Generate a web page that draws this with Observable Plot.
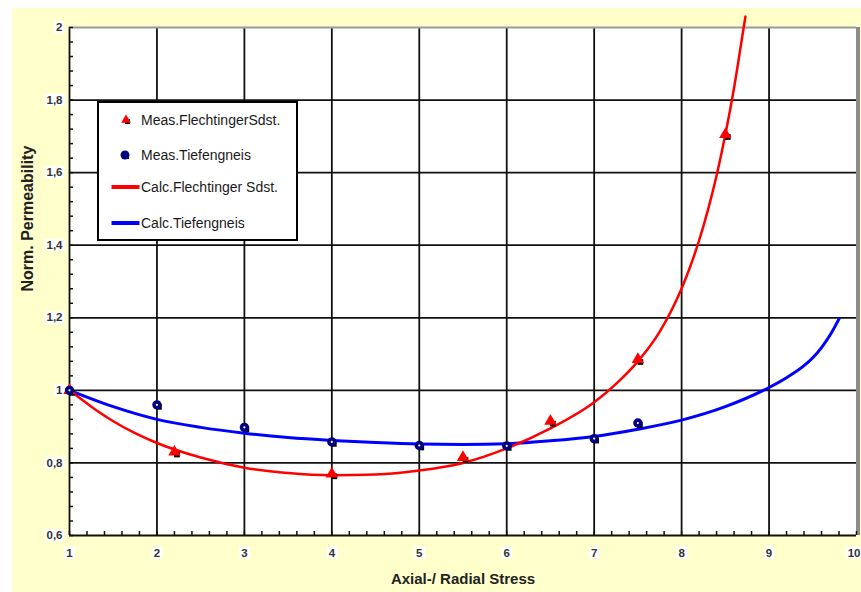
<!DOCTYPE html>
<html>
<head>
<meta charset="utf-8">
<script src="https://cdn.jsdelivr.net/npm/d3@7"></script>
<script src="https://cdn.jsdelivr.net/npm/@observablehq/plot@0.6"></script>
<style>
html, body { margin: 0; padding: 0; background: #fff; }
#wrap { position: relative; width: 861px; height: 592px; overflow: hidden; font-family: "Liberation Sans", Arial, sans-serif; }
#bg { position: absolute; left: 12px; top: 8px; right: 0; bottom: 0; background: #ffffcc; }
#chart { position: absolute; left: 0; top: 0; }
#legend { position: absolute; left: 97px; top: 101px; width: 197px; height: 136px; border: 2px solid #000; background: #fff; }
.row { position: absolute; left: 0; height: 20px; display: flex; align-items: center; font-size: 14px; color: #1a1a1a; white-space: nowrap; }
.row svg { display: block; }
</style>
</head>
<body>
<div id="wrap">
  <div id="bg"></div>
  <div id="chart"></div>
  <div id="legend"></div>
</div>
<script>
// ---- data ----
const xTitle = "Axial-/ Radial Stress";
const yTitle = "Norm. Permeability";

const xTicks = [1, 2, 3, 4, 5, 6, 7, 8, 9, 10];
const xTickLabels = ["1", "2", "3", "4", "5", "6", "7", "8", "9", "10"];
const yTicks = [0.6, 0.8, 1, 1.2, 1.4, 1.6, 1.8, 2];
const yTickLabels = ["0,6", "0,8", "1", "1,2", "1,4", "1,6", "1,8", "2"];

const legendLabels = ["Meas.FlechtingerSdst.", "Meas.Tiefengneis", "Calc.Flechtinger Sdst.", "Calc.Tiefengneis"];

// measured: Flechtinger sandstone
const measFX = [1, 2.2, 4, 5.5, 6.5, 7.5, 8.5];
const measFY = [1.0, 0.83, 0.77, 0.815, 0.915, 1.085, 1.705];
// measured: Tiefengneis
const measTX = [1, 2, 3, 4, 5, 6, 7, 7.5];
const measTY = [1.0, 0.96, 0.898, 0.858, 0.848, 0.847, 0.867, 0.91];

// calculated: Flechtinger sandstone
const calcFX = [1, 1.25, 1.5, 1.75, 2, 2.5, 3, 3.5, 4, 4.5, 5, 5.5, 6, 6.5, 7, 7.25, 7.5, 7.75, 8, 8.1, 8.2, 8.3, 8.4, 8.5, 8.6, 8.7, 8.73];
const calcFY = [1.0, 0.955, 0.915, 0.882, 0.855, 0.815, 0.787, 0.772, 0.766, 0.768, 0.779, 0.80, 0.84, 0.895, 0.967, 1.018, 1.08, 1.162, 1.281, 1.342, 1.413, 1.496, 1.592, 1.705, 1.834, 1.985, 2.03];
// calculated: Tiefengneis
const calcTX = [1, 1.5, 2, 2.5, 3, 3.5, 4, 4.5, 5, 5.5, 6, 6.5, 7, 7.5, 8, 8.5, 9, 9.2, 9.4, 9.5, 9.6, 9.7, 9.8];
const calcTY = [1.0, 0.955, 0.92, 0.898, 0.882, 0.87, 0.862, 0.856, 0.852, 0.851, 0.853, 0.861, 0.873, 0.893, 0.918, 0.955, 1.008, 1.035, 1.068, 1.09, 1.118, 1.153, 1.197];

const colRed = "#ff0000", colNavy = "#000080", colBlue = "#0000ff";

const xMinor = d3.range(0, 46).map(i => 1 + i * 0.2);
const yMinor = d3.range(0, 36).map(i => 0.6 + i * 0.04);

const font = '"Liberation Sans", Arial, sans-serif';

const chart = Plot.plot({
  width: 861,
  height: 592,
  marginLeft: 69,
  marginRight: 5,
  marginTop: 27,
  marginBottom: 57,
  style: { background: "transparent", fontFamily: font, overflow: "visible" },
  x: { domain: [1, 10] },
  y: { domain: [0.6, 2] },
  marks: [
    Plot.frame({ fill: "white", stroke: null }),
    Plot.gridX({ ticks: xTicks.slice(0, -1), stroke: "#111", strokeOpacity: 1, strokeWidth: 1.8 }),
    Plot.gridY({ ticks: yTicks.slice(0, -1), stroke: "#111", strokeOpacity: 1, strokeWidth: 1.8 }),
    Plot.ruleX([xTicks[xTicks.length - 1]], { stroke: "#8c8c8c", strokeWidth: 4, dx: 1.5 }),
    Plot.ruleY([yTicks[yTicks.length - 1]], { stroke: "#9a9a9a", strokeWidth: 2 }),
    // minor ticks (inside)
    Plot.axisX({ ticks: xMinor, tickSize: 4, dy: -4, fill: "none", label: null, stroke: "#111", strokeWidth: 1.5 }),
    Plot.axisY({ ticks: yMinor, tickSize: 4, dx: 4, fill: "none", label: null, stroke: "#111", strokeWidth: 1.5 }),
    // tick labels
    Plot.axisX({ ticks: xTicks, tickSize: 0, tickPadding: 13, tickFormat: d => xTickLabels[xTicks.indexOf(d)], fontSize: 11.5, fontWeight: "bold", fill: "#333", label: null }),
    Plot.axisY({ ticks: yTicks, tickSize: 0, tickPadding: 7, tickFormat: d => yTickLabels[yTicks.indexOf(d)], fontSize: 11.5, fontWeight: "bold", fill: "#333", label: null }),
    // titles
    Plot.text([xTitle], { text: d => d, frameAnchor: "bottom", dy: 48, fontSize: 15, fontWeight: "bold", fill: "#222", ariaLabel: "x title" }),
    Plot.text([yTitle], { text: d => d, frameAnchor: "left", dx: -42, dy: 10, rotate: -90, fontSize: 16, fontWeight: "bold", fill: "#222", ariaLabel: "y title" }),
    // calculated curves
    Plot.line(calcTX, { x: calcTX, y: calcTY, stroke: colBlue, strokeWidth: 3, curve: "monotone-x" }),
    Plot.line(calcFX, { x: calcFX, y: calcFY, stroke: colRed, strokeWidth: 2.5, curve: "monotone-x" }),
    // marker shadows
    Plot.dot(measFX, { x: measFX, y: measFY, symbol: "square", r: 3.2, fill: "black", dx: 2.5, dy: 2.5 }),
    Plot.dot(measTX, { x: measTX, y: measTY, symbol: "square", r: 3.2, fill: "black", dx: 2, dy: 2 }),
    // measured markers
    Plot.dot(measFX, { x: measFX, y: measFY, symbol: "triangle", r: 4.6, fill: colRed }),
    Plot.dot(measTX, { x: measTX, y: measTY, r: 2.9, stroke: colNavy, strokeWidth: 3.6, fill: "white" })
  ]
});

document.getElementById("chart").append(chart);

// stretch titles to match reference extents
const svg = d3.select(chart);
svg.select('g[aria-label="y title"] text').attr("textLength", 186).attr("lengthAdjust", "spacingAndGlyphs");
svg.select('g[aria-label="x title"] text').attr("textLength", 158).attr("lengthAdjust", "spacingAndGlyphs");

// keep the last x tick label inside the picture
svg.selectAll('g[aria-label="x-axis tick label"] text').each(function () {
  const b = this.getBBox();
  const m = /translate\(([-\d.]+),\s*([-\d.]+)\)/.exec(this.getAttribute("transform") || "");
  if (m) {
    const tx = +m[1], ty = +m[2];
    const over = tx + b.x + b.width - 860;
    if (over > 0) this.setAttribute("transform", `translate(${tx - over},${ty})`);
  }
});

// white boxes behind labels
svg.selectAll('g[aria-label="x-axis tick label"] text, g[aria-label="y-axis tick label"] text, g[aria-label="x title"] text, g[aria-label="y title"] text')
  .each(function () {
    const b = this.getBBox();
    const t = this;
    d3.select(t.parentNode).insert("rect", () => t)
      .attr("x", b.x - 2).attr("y", b.y).attr("width", b.width + 4).attr("height", b.height)
      .attr("fill", "white").attr("stroke", "none")
      .attr("transform", t.getAttribute("transform"));
  });

// legend
const legendItems = [
  { label: legendLabels[0], kind: "tri", color: colRed, top: 7 },
  { label: legendLabels[1], kind: "dot", color: colNavy, top: 42 },
  { label: legendLabels[2], kind: "line", color: colRed, top: 74 },
  { label: legendLabels[3], kind: "line", color: colBlue, top: 110 }
];
const legend = d3.select("#legend");
for (const it of legendItems) {
  const row = legend.append("div").attr("class", "row").style("top", it.top + "px");
  const s = row.append("svg").attr("width", 42).attr("height", 20);
  if (it.kind === "line") {
    s.append("line").attr("x1", 12.5).attr("x2", 40.5).attr("y1", 10).attr("y2", 10)
      .attr("stroke", it.color).attr("stroke-width", 4);
  } else if (it.kind === "tri") {
    s.append("rect").attr("x", 26).attr("y", 9).attr("width", 5).attr("height", 5).attr("fill", "black");
    s.append("path").attr("d", d3.symbol(d3.symbolTriangle, 40)()).attr("transform", "translate(27,10)").attr("fill", it.color);
  } else {
    s.append("rect").attr("x", 25).attr("y", 9).attr("width", 5).attr("height", 5).attr("fill", "black");
    s.append("circle").attr("cx", 26).attr("cy", 10).attr("r", 4.5).attr("fill", it.color);
  }
  row.append("span").text(it.label);
}
</script>
</body>
</html>
